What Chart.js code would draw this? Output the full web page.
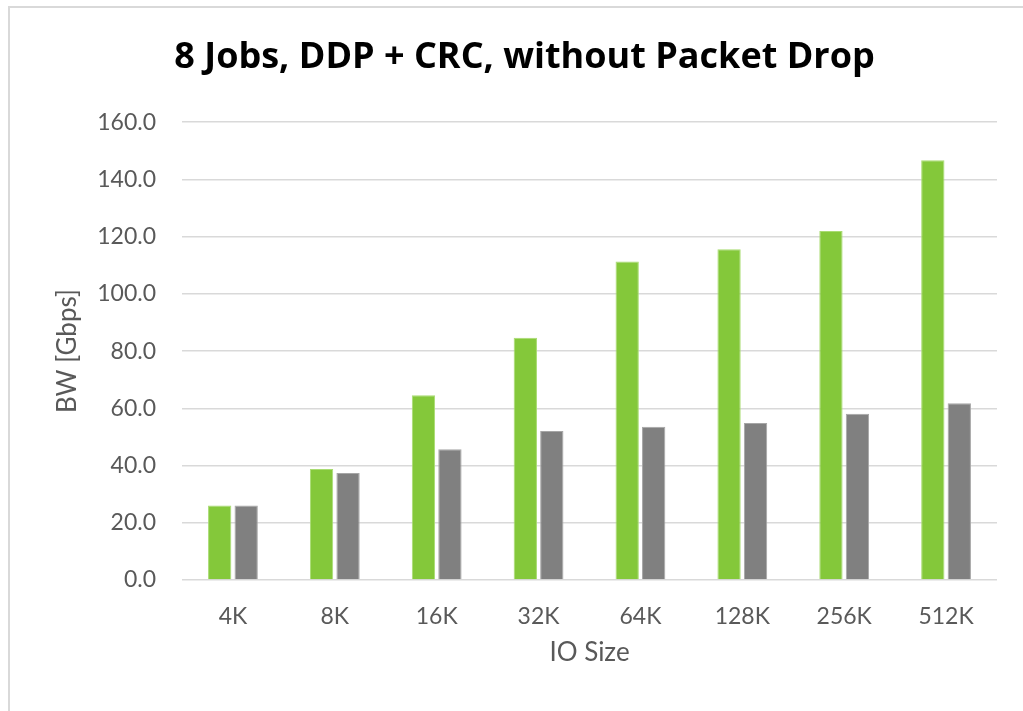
<!DOCTYPE html>
<html>
<head>
<meta charset="utf-8">
<script src="https://cdn.jsdelivr.net/npm/chart.js@4"></script>
<style>
  html, body { margin: 0; padding: 0; background: #fff; overflow: hidden; }
  #frame { position: absolute; left: 8px; top: 6px; width: 1100px; height: 800px; border: 2px solid #d9d9d9; }
  #barChart { position: absolute; left: 0; top: 0; }
</style>
</head>
<body>
<div id="frame"></div>
<canvas id="barChart" width="1023" height="711"></canvas>
<script>
  const labels = ["4K", "8K", "16K", "32K", "64K", "128K", "256K", "512K"];
  const seriesGreen = [26.0, 38.8, 64.6, 84.7, 111.3, 115.6, 122.0, 146.7];
  const seriesGray = [26.0, 37.4, 45.7, 52.1, 53.6, 54.9, 58.1, 61.8];
  const yMax = 160;
  const yStep = 20;

  const tickFont = { family: 'Lato', size: 23 };
  const axisTitleFont = { family: 'Lato', size: 26 };
  const textColor = '#595959';

  const ctx = document.getElementById('barChart').getContext('2d');

  const chart = new Chart(ctx, {
    type: 'bar',
    data: {
      labels: labels,
      datasets: [{
        label: 'Series 1',
        data: seriesGreen,
        backgroundColor: '#84c83a',
        borderColor: '#a9dc72',
        borderWidth: 1
      }, {
        label: 'Series 2',
        data: seriesGray,
        backgroundColor: '#808080',
        borderColor: '#a6a6a6',
        borderWidth: 1
      }]
    },
    options: {
      responsive: false,
      animation: false,
      layout: {
        padding: { left: 52, right: 26, top: 0, bottom: 43 }
      },
      datasets: {
        bar: { categoryPercentage: 0.52, barPercentage: 0.88 }
      },
      scales: {
        x: {
          grid: { display: false, drawTicks: false },
          border: { display: false },
          ticks: { color: textColor, font: tickFont, padding: 23 },
          title: {
            display: true,
            text: 'IO Size',
            color: textColor,
            font: axisTitleFont,
            padding: 0
          },
          // fixed axis height keeps the plot bottom where the labels expect it
          afterFit: scale => { scale.height = 88; }
        },
        y: {
          min: 0,
          max: yMax,
          ticks: {
            stepSize: yStep,
            color: textColor,
            font: tickFont,
            padding: 26,
            callback: v => v.toFixed(1)
          },
          grid: { color: '#d9d9d9', lineWidth: 1.5, drawTicks: false },
          border: { display: false },
          title: {
            display: true,
            text: 'BW [Gbps]',
            color: textColor,
            font: axisTitleFont,
            padding: 0
          },
          afterFit: scale => { scale.width = 130; }
        }
      },
      plugins: {
        legend: { display: false },
        tooltip: { enabled: false },
        title: {
          display: true,
          text: '8 Jobs, DDP + CRC, without Packet Drop',
          color: '#000',
          font: { family: 'Open Sans', size: 36, weight: 'bold' },
          padding: { top: 36, bottom: 43 }
        }
      }
    }
  });
</script>
</body>
</html>
